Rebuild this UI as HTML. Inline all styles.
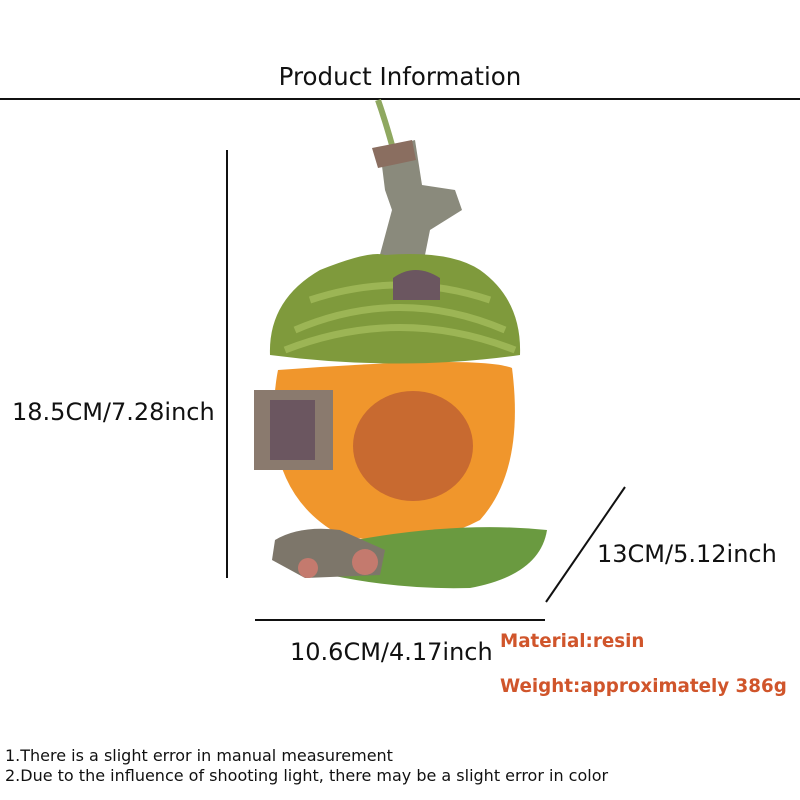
<!DOCTYPE html>
<html><head><style>
body{margin:0;width:800px;height:800px;background:#fff;position:relative;overflow:hidden;font-family:"DejaVu Sans",sans-serif;}
.t{position:absolute;white-space:nowrap;color:#111;}
.o{position:absolute;white-space:nowrap;color:#d0552b;font-weight:bold;font-size:18.3px;}
</style></head><body>
<div class="t" style="left:0;width:800px;text-align:center;top:62px;font-size:24.5px;">Product Information</div>
<div style="position:absolute;left:0;top:98px;width:800px;height:2px;background:#111"></div>
<svg width="800" height="800" style="position:absolute;left:0;top:0">
<line x1="227" y1="150" x2="227" y2="578" stroke="#111" stroke-width="2"/>
<line x1="255" y1="620" x2="545" y2="620" stroke="#111" stroke-width="2"/>
<line x1="625" y1="487" x2="546" y2="602" stroke="#111" stroke-width="2"/>
<path d="M378 100 Q385 120 392 145" stroke="#8fa860" stroke-width="6" fill="none"/>
<path d="M380 150 L415 140 L422 185 L455 190 L462 210 L430 230 L425 255 L378 262 L392 210 L385 190 Z" fill="#8a8a7c"/>
<path d="M372 148 L412 140 L416 160 L378 168 Z" fill="#8a6e60"/>
<path d="M278 370 Q480 355 512 368 Q525 470 480 520 Q420 552 340 535 Q285 505 275 440 Q272 400 278 370 Z" fill="#f0962c"/>
<ellipse cx="413" cy="446" rx="60" ry="55" fill="#c86a30"/>
<path d="M270 355 Q268 300 320 270 Q370 250 385 255 Q450 250 480 270 Q522 300 520 355 Q400 372 270 355 Z" fill="#7f9a3c"/>
<path d="M295 330 Q400 285 505 330 M285 350 Q400 305 515 350 M310 300 Q400 270 490 300" stroke="#a8c060" stroke-width="7" fill="none" opacity=".7"/>
<path d="M393 300 L393 278 Q415 262 440 278 L440 300 Z" fill="#6b5660"/>
<rect x="254" y="390" width="79" height="80" fill="#8a7a6e"/>
<rect x="270" y="400" width="45" height="60" fill="#6b5660"/>
<path d="M330 545 Q450 520 547 530 Q540 575 470 588 Q400 590 330 575 Z" fill="#6a9a40"/>
<path d="M275 540 Q300 525 340 530 L385 550 L380 575 L305 578 L272 560 Z" fill="#7d766a"/>
<circle cx="365" cy="562" r="13" fill="#c47a6e"/>
<circle cx="308" cy="568" r="10" fill="#c47a6e"/>
</svg>
<div class="t" style="left:12px;top:398px;font-size:24px;">18.5CM/7.28inch</div>
<div class="t" style="left:290px;top:638px;font-size:24px;">10.6CM/4.17inch</div>
<div class="t" style="left:597px;top:540px;font-size:24px;">13CM/5.12inch</div>
<div class="o" style="left:500px;top:631px;">Material:resin</div>
<div class="o" style="left:500px;top:676px;">Weight:approximately 386g</div>
<div class="t" style="left:5px;top:746px;font-size:16px;">1.There is a slight error in manual measurement</div>
<div class="t" style="left:5px;top:766px;font-size:16px;">2.Due to the influence of shooting light, there may be a slight error in color</div>
</body></html>
